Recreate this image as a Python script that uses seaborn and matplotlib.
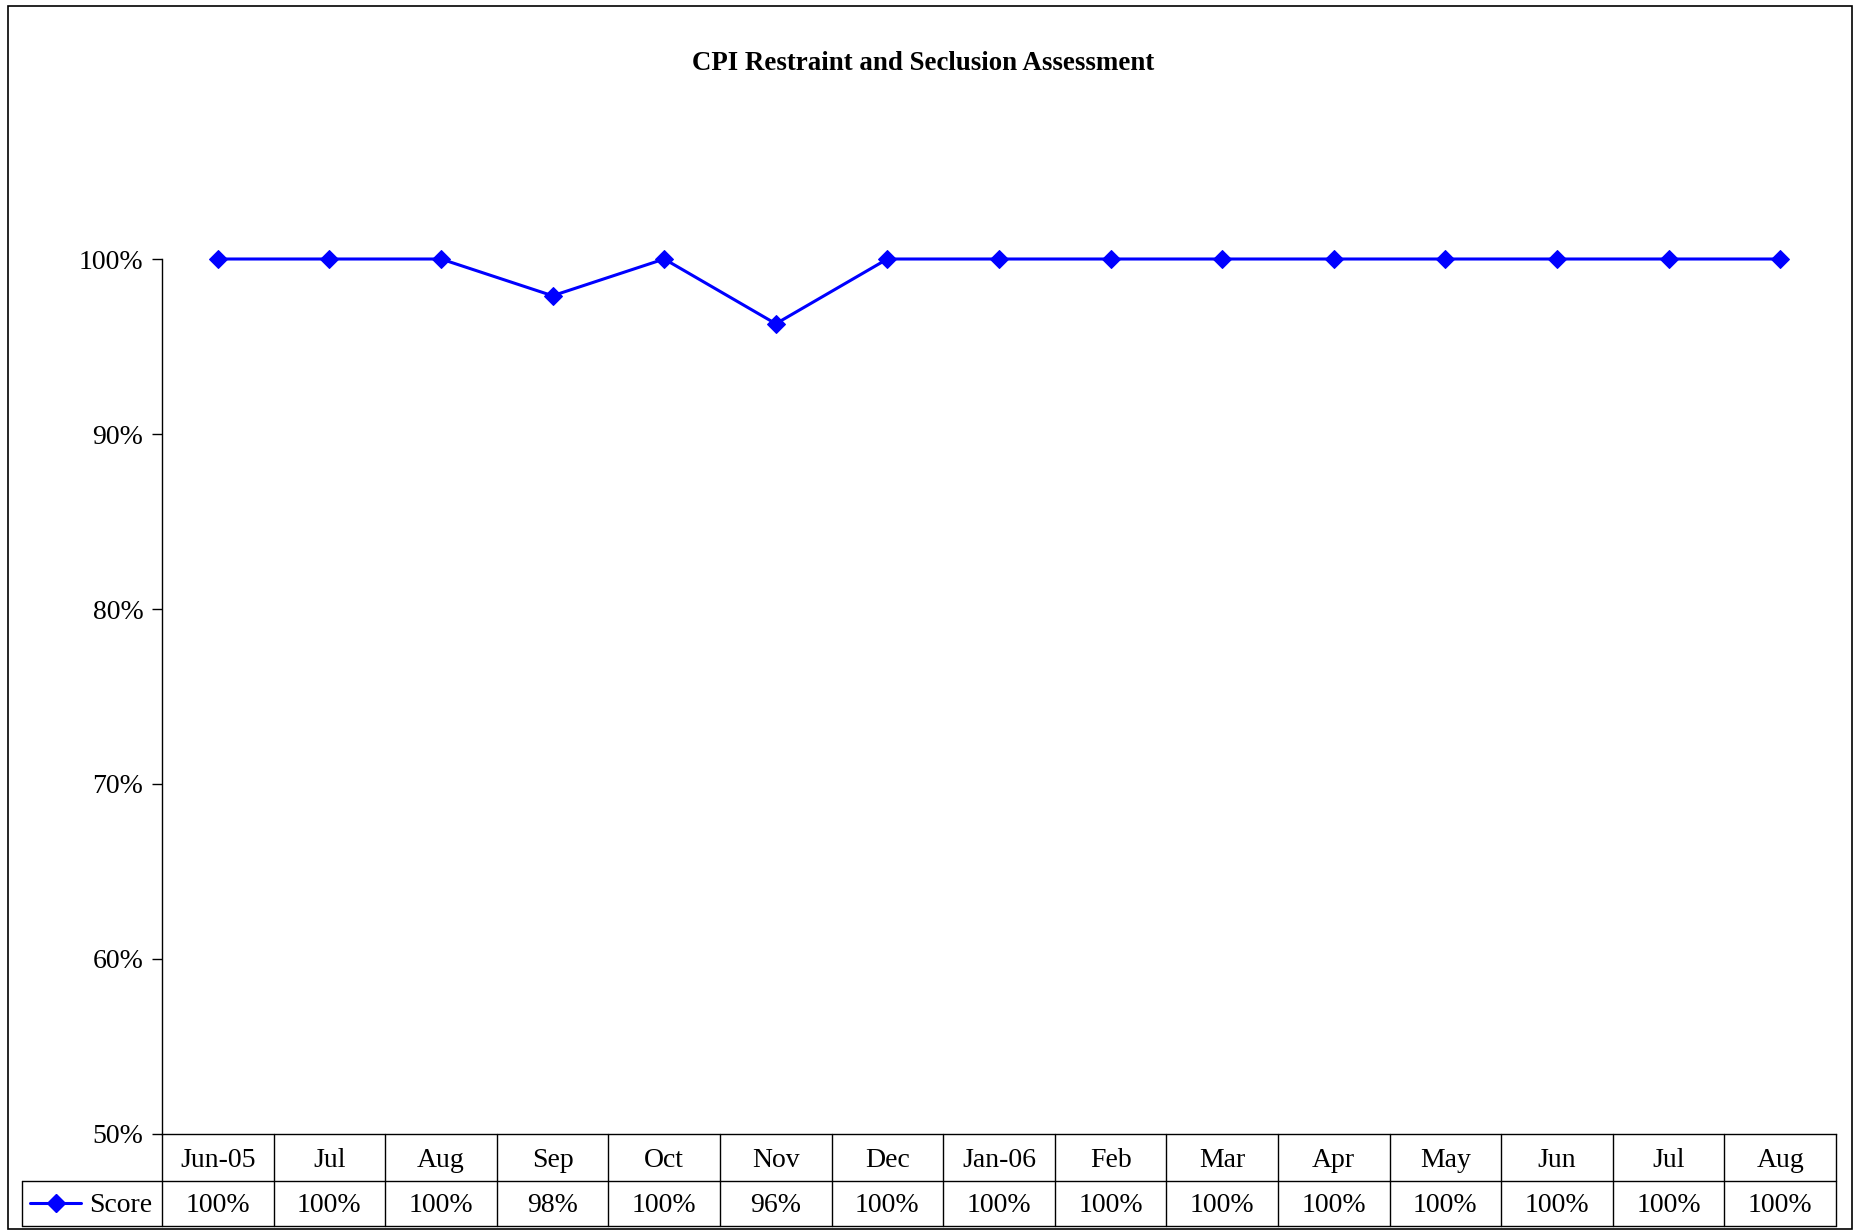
import pandas as pd
import matplotlib
matplotlib.use("Agg")
import matplotlib.pyplot as plt
from matplotlib.lines import Line2D
from matplotlib.patches import Rectangle
import seaborn as sns

# datos del grafico
months = ["Jun-05", "Jul", "Aug", "Sep", "Oct", "Nov", "Dec", "Jan-06",
          "Feb", "Mar", "Apr", "May", "Jun", "Jul", "Aug"]
scores = [1.00, 1.00, 1.00, 0.979, 1.00, 0.963, 1.00, 1.00,
          1.00, 1.00, 1.00, 1.00, 1.00, 1.00, 1.00]
y_ticks = [0.5, 0.6, 0.7, 0.8, 0.9, 1.0]
series_name = "Score"

df = pd.DataFrame({"pos": range(len(months)), "score": scores})

sns.set_style("white")
plt.rcParams["font.family"] = ["Liberation Serif", "DejaVu Serif"]
plt.rcParams["text.color"] = "black"
plt.rcParams["ytick.color"] = "black"
plt.rcParams["ytick.labelcolor"] = "black"

fig = plt.figure(figsize=(18.56, 12.31), dpi=100)
ax = fig.add_axes([0.0873, 0.0788, 0.9019, 0.7108])

sns.lineplot(data=df, x="pos", y="score", ax=ax, color="#0000FF",
             marker="D", markersize=9, markeredgecolor="#0000FF",
             linewidth=2.2, clip_on=False)

ax.set_xlim(-0.5, len(months) - 0.5)
ax.set_ylim(0.5, 1.0)
ax.set_yticks(y_ticks)
ax.set_yticklabels([f"{t*100:.0f}%" for t in y_ticks], fontsize=20)
ax.set_xticks([])
ax.set_xlabel("")
ax.set_ylabel("")
ax.tick_params(axis="y", direction="out", length=7, width=1, pad=6.5,
               left=True, colors="black")
for s in ["top", "right"]:
    ax.spines[s].set_visible(False)
for s in ["left", "bottom"]:
    ax.spines[s].set_color("black")
    ax.spines[s].set_linewidth(1)

# tabla de datos bajo el eje
tr = ax.get_xaxis_transform()
h1 = 0.0537
h2 = 0.105
lab_left = -1.7545
kw = dict(transform=tr, clip_on=False, color="black", lw=1)
ax.plot([-0.5, len(months) - 0.5], [-h1, -h1], **kw)
ax.plot([lab_left, -0.5], [-h1, -h1], **kw)
ax.plot([lab_left, len(months) - 0.5], [-h2, -h2], **kw)
ax.plot([lab_left, lab_left], [-h1, -h2], **kw)
for i in range(len(months) + 1):
    ax.plot([i - 0.5, i - 0.5], [0, -h2], **kw)

y_row1 = -h1 / 2 - 0.003
y_row2 = -(h1 + h2) / 2 - 0.002
for i, (m, v) in enumerate(zip(months, scores)):
    ax.text(i, y_row1, m, transform=tr, ha="center", va="center",
            fontsize=20, clip_on=False)
    ax.text(i, y_row2, f"{v*100:.0f}%", transform=tr, ha="center",
            va="center", fontsize=20, clip_on=False)

# clave de la serie en la tabla
ax.add_line(Line2D([lab_left + 0.07, lab_left + 0.30, lab_left + 0.53],
                   [-(h1 + h2) / 2] * 3, transform=tr, color="#0000FF", lw=2.2,
                   marker="D", markevery=[1], markersize=9, clip_on=False))
ax.text(lab_left + 0.6, y_row2, series_name, transform=tr,
        ha="left", va="center", fontsize=20, clip_on=False)

fig.text(923 / 1856, 1 - 64 / 1231, "CPI Restraint and Seclusion Assessment",
         ha="center", va="center", fontsize=19.4, fontweight="bold")

# marco exterior
fig.patches.append(Rectangle((8 / 1856, 2 / 1231), 1844 / 1856, 1223 / 1231,
                             transform=fig.transFigure, fill=False,
                             edgecolor="black", lw=1.2))

fig.savefig("out.png", dpi=100, facecolor="white")
